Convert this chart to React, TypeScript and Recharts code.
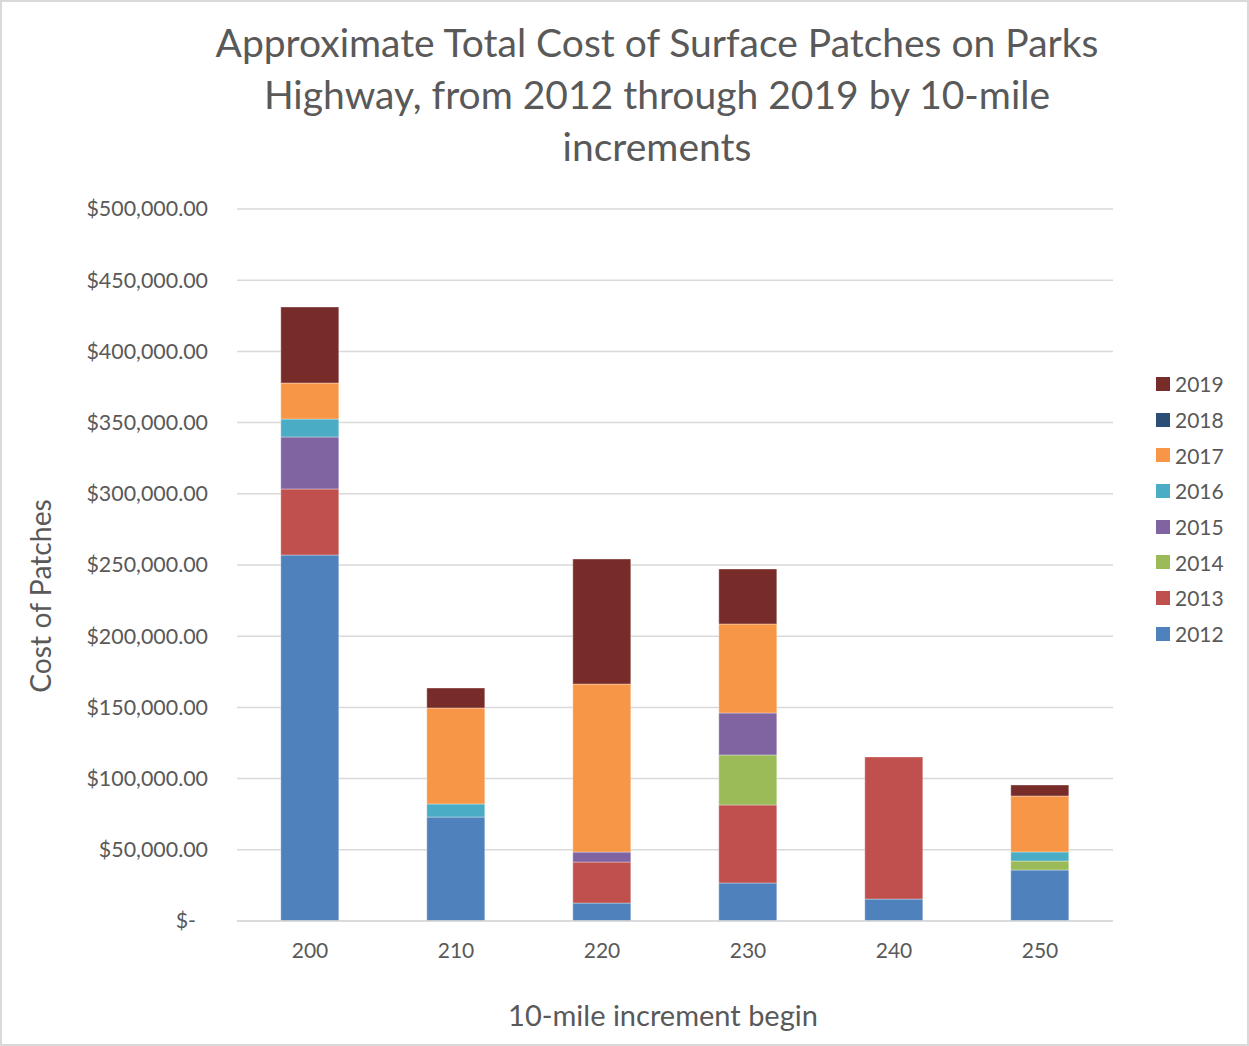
import React from "react";
import { BarChart, Bar, XAxis, YAxis, CartesianGrid } from "recharts";

const categories = ["200", "210", "220", "230", "240", "250"];
const years = ["2012", "2013", "2014", "2015", "2016", "2017", "2018", "2019"];

const cost2012 = [257000, 73000, 12600, 26700, 15400, 35800];
const cost2013 = [46400, 0, 28800, 54800, 99800, 0];
const cost2014 = [0, 0, 0, 35100, 0, 6300];
const cost2015 = [36500, 0, 7000, 29500, 0, 0];
const cost2016 = [12600, 9200, 0, 0, 0, 6400];
const cost2017 = [25300, 67400, 118000, 62500, 0, 39300];
const cost2018 = [0, 0, 0, 0, 0, 0];
const cost2019 = [53400, 14000, 87800, 38600, 0, 7700];

const yTicks = [0, 50000, 100000, 150000, 200000, 250000, 300000, 350000, 400000, 450000, 500000];

const colors: Record<string, string> = {
  "2012": "#4F81BD",
  "2013": "#C0504D",
  "2014": "#9BBB59",
  "2015": "#8064A2",
  "2016": "#4BACC6",
  "2017": "#F79646",
  "2018": "#2C4D75",
  "2019": "#772C2A",
};

const seriesByYear: Record<string, number[]> = {
  "2012": cost2012,
  "2013": cost2013,
  "2014": cost2014,
  "2015": cost2015,
  "2016": cost2016,
  "2017": cost2017,
  "2018": cost2018,
  "2019": cost2019,
};

const data = categories.map((c, i) => {
  const row: Record<string, string | number> = { mile: c };
  years.forEach((y) => (row[y] = seriesByYear[y][i]));
  return row;
});

const FONT = "Lato, 'Open Sans', sans-serif";
const TEXT = "#595959";

function money(v: number) {
  if (v === 0) return "$-";
  return "$" + v.toLocaleString("en-US", { minimumFractionDigits: 2, maximumFractionDigits: 2 });
}

function YTick(props: any) {
  const { x, y, payload } = props;
  const v = payload.value as number;
  return (
    <text x={v === 0 ? x - 12 : x} y={y} dy="0.35em" textAnchor="end" fill={TEXT} fontSize={21.4} fontFamily={FONT}>
      {money(v)}
    </text>
  );
}

export default function App() {
  return (
    <div style={{ position: "absolute", left: 0, top: 0, width: 1249, height: 1046, background: "#fff", fontFamily: FONT }}>
      <BarChart
        width={1249}
        height={1046}
        data={data}
        margin={{ top: 209, right: 136, bottom: 65, left: 20 }}
        barCategoryGap="30%"
      >
        <CartesianGrid vertical={false} stroke="#d9d9d9" strokeWidth={1.5} />
        <XAxis
          dataKey="mile"
          height={60}
          axisLine={{ stroke: "#d9d9d9", strokeWidth: 1.5 }}
          tickLine={false}
          tickSize={6}
          tickMargin={16}
          tick={{ fill: TEXT, fontSize: 21, fontFamily: FONT }}
        />
        <YAxis
          width={217}
          domain={[0, 500000]}
          ticks={yTicks}
          axisLine={false}
          tickLine={false}
          tickSize={6}
          tickMargin={23}
          tick={<YTick />}
          interval={0}
        />
        {years.map((y) => (
          <Bar
            key={y}
            dataKey={y}
            stackId="a"
            fill={colors[y]}
            stroke="#ffffff"
            strokeOpacity={0.35}
            strokeWidth={1}
            isAnimationActive={false}
          />
        ))}
      </BarChart>

      <div
        style={{
          position: "absolute",
          left: 0,
          top: 16,
          width: 1314,
          textAlign: "center",
          fontSize: 39,
          lineHeight: "52px",
          color: TEXT,
        }}
      >
        Approximate Total Cost of Surface Patches on Parks
        <br />
        Highway, from 2012 through 2019 by 10-mile
        <br />
        increments
      </div>

      <div
        style={{
          position: "absolute",
          left: 40,
          top: 596,
          transform: "translate(-50%, -50%) rotate(-90deg)",
          whiteSpace: "nowrap",
          fontSize: 28.3,
          color: TEXT,
        }}
      >
        Cost of Patches
      </div>

      <div
        style={{
          position: "absolute",
          left: 663,
          top: 1014,
          transform: "translate(-50%, -50%)",
          whiteSpace: "nowrap",
          fontSize: 29,
          color: TEXT,
        }}
      >
        10-mile increment begin
      </div>

      <div style={{ position: "absolute", left: 1156, top: 366 }}>
        {[...years].reverse().map((y) => (
          <div key={y} style={{ display: "flex", alignItems: "center", height: 35.7 }}>
            <span style={{ display: "inline-block", width: 14, height: 14, background: colors[y], marginRight: 5 }} />
            <span style={{ fontSize: 21, color: TEXT }}>{y}</span>
          </div>
        ))}
      </div>

      <div
        style={{
          position: "absolute",
          left: 0,
          top: 0,
          width: 1249,
          height: 1046,
          boxSizing: "border-box",
          border: "2px solid #d9d9d9",
          pointerEvents: "none",
        }}
      />
    </div>
  );
}
